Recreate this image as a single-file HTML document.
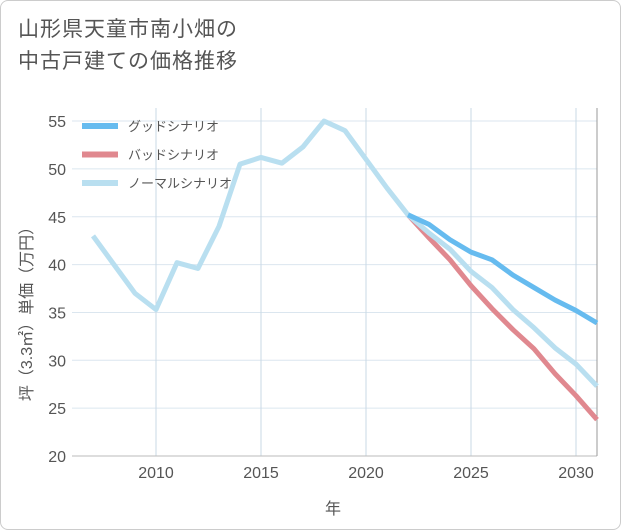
<!DOCTYPE html>
<html><head><meta charset="utf-8"><style>
body{margin:0;background:#fff;font-family:"Liberation Sans","Noto Sans CJK JP",sans-serif}
#card{position:absolute;left:0;top:0;width:619px;height:528px;border:1px solid #ccc;border-radius:8px;background:#fff}
#title{position:absolute;left:18px;top:14px;font-size:21px;line-height:32px;color:#555;letter-spacing:1px}
</style></head><body>
<div id="card"></div>
<div id="title">山形県天童市南小畑の<br>中古戸建ての価格推移</div>
<svg id="chart" width="621" height="530" style="position:absolute;left:0;top:0"></svg>
<script>
const years=[2007,2008,2009,2010,2011,2012,2013,2014,2015,2016,2017,2018,2019,2020,2021,2022,2023,2024,2025,2026,2027,2028,2029,2030,2031];
const normal=[43,40,37,35.3,40.2,39.6,44,50.5,51.2,50.6,52.3,55,54,51,48,45.2,43.3,41.6,39.3,37.6,35.3,33.4,31.3,29.6,27.3];
const fyears=[2022,2023,2024,2025,2026,2027,2028,2029,2030,2031];
const good=[45.2,44.2,42.6,41.3,40.5,38.9,37.6,36.3,35.2,33.9];
const bad=[45.2,42.8,40.5,37.8,35.4,33.2,31.2,28.6,26.3,23.8];
const xTicks=[2010,2015,2020,2025,2030];
const yTicks=[20,25,30,35,40,45,50,55];
const ns="http://www.w3.org/2000/svg",svg=document.getElementById('chart');
const X=v=>156+(v-2010)*21, Y=v=>456-(v-20)*9.57;
const L=72,R=597,T=108,B=456;
function mk(t,a,p){const e=document.createElementNS(ns,t);for(const k in a)e.setAttribute(k,a[k]);(p||svg).appendChild(e);return e;}
for(const t of yTicks){
 const g=mk('line',{x1:L,x2:R,y1:Y(t),y2:Y(t),stroke:'#dbe6ef','stroke-width':1});
 
 
 const tx=mk('text',{x:66,y:Y(t)+6,'text-anchor':'end','font-size':16,fill:'#555'});tx.textContent=t;
 
 
}
for(let y=2007;y<=2031;y++){}
for(const t of xTicks){
 const g=mk('line',{x1:X(t),x2:X(t),y1:T,y2:B,stroke:'#c9d9e6','stroke-width':1});
 
 
 const tx=mk('text',{x:X(t),y:478,'text-anchor':'middle','font-size':16,fill:'#555'});tx.textContent=t;
 
 
}
const ax=mk('line',{x1:L,x2:R,y1:B,y2:B,stroke:'#bbb'});


const ra=mk('line',{x1:R,x2:R,y1:T,y2:B,stroke:'#999'});


function line(xs,ys,c,name){
 const p=mk('polyline',{points:xs.map((x,i)=>X(x)+','+Y(ys[i])).join(' '),fill:'none',stroke:c,'stroke-width':5,'stroke-linejoin':'round'});
 
 
}
line(fyears,bad,'#e0888f','bad-scenario-line');
line(years,normal,'#b9dff0','normal-scenario-line');
line(fyears,good,'#66bbef','good-scenario-line');
const leg=[['グッドシナリオ','#66bbef'],['バッドシナリオ','#e0888f'],['ノーマルシナリオ','#b9dff0']];
leg.forEach((d,i)=>{
 const y=126+i*28.5;
 const l=mk('line',{x1:82,x2:118,y1:y,y2:y,stroke:d[1],'stroke-width':6});
 
 
 const t=mk('text',{x:128,y:y+5,'font-size':13,fill:'#555'});t.textContent=d[0];
 
 
});
const xt=mk('text',{x:333,y:514,'text-anchor':'middle','font-size':16,fill:'#555'});xt.textContent='年';


const yt=mk('text',{x:0,y:0,'text-anchor':'middle','font-size':16,fill:'#555',transform:'translate(32,310) rotate(-90)'});yt.textContent='坪（3.3㎡）単価（万円）';


</script>
</body></html>
